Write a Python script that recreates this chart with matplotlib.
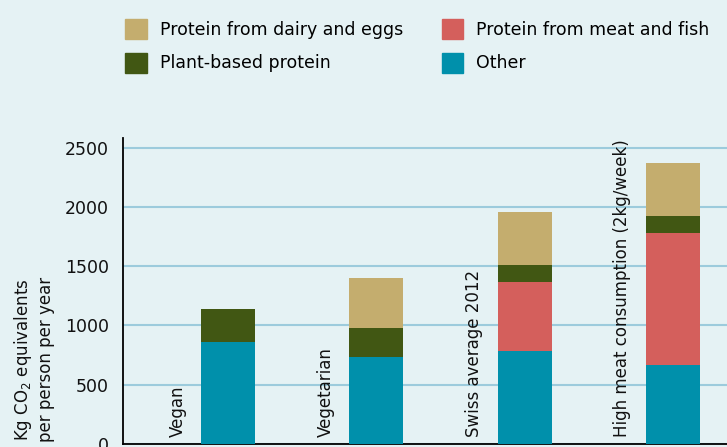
import numpy as np
import matplotlib
matplotlib.use("Agg")
import matplotlib.pyplot as plt
from matplotlib.patches import Patch

# data
diets = ["Vegan", "Vegetarian", "Swiss average 2012", "High meat consumption (2kg/week)"]
other = [858, 737, 782, 669]
meat = [0, 0, 582, 1111]
plant = [277, 238, 144, 144]
dairy = [0, 423, 450, 449]

series_names = ["Other", "Protein from meat and fish", "Plant-based protein", "Protein from dairy and eggs"]
series_values = [other, meat, plant, dairy]
series_colors = ["#0090ab", "#d45f5c", "#415713", "#c4ad6e"]

y_ticks = [0, 500, 1000, 1500, 2000, 2500]

bg = "#e5f2f4"
plt.rcParams["font.family"] = ["DejaVu Sans"]

fig = plt.figure(figsize=(7.27, 4.47), dpi=100, facecolor=bg)
ax = fig.add_axes([123 / 727, 3 / 447, 1 - 123 / 727, 306 / 447], facecolor=bg)

x = np.arange(len(diets))
bottom = np.zeros(len(diets))
for vals, col in zip(series_values, series_colors):
    ax.bar(x, vals, width=0.364, bottom=bottom, color=col, zorder=3)
    bottom += np.array(vals)

# rotated category labels left of each bar
for xi, name in zip(x, diets):
    ax.text(xi - 0.34, 60, name, rotation=90, ha="center", va="bottom",
            fontsize=12, color="#111111", zorder=4)

ax.set_xlim(-0.708, 3.365)
ax.set_ylim(0, 2582)
ax.set_yticks(y_ticks)
ax.set_xticks([])
ax.tick_params(axis="y", length=0, labelsize=12.5, pad=10, labelcolor="#111111")
ax.yaxis.grid(True, color="#9ccbdc", linewidth=1.5, zorder=0)
ax.set_axisbelow(True)
for s in ["top", "right"]:
    ax.spines[s].set_visible(False)
ax.spines["left"].set_linewidth(1.3)
ax.spines["bottom"].set_linewidth(1.3)

fig.text(0.046, 0.195, "Kg CO$_2$ equivalents\nper person per year", rotation=90,
         ha="center", va="center", fontsize=12, multialignment="center", color="#111111")

# legend, two columns on top
handles = [Patch(color=series_colors[3]), Patch(color=series_colors[2]),
           Patch(color=series_colors[1]), Patch(color=series_colors[0])]
labels = [series_names[3], series_names[2], series_names[1], series_names[0]]
fig.legend(handles, labels, ncol=2, loc="upper left", bbox_to_anchor=(0.151, 0.993),
           frameon=False, fontsize=12.5, handlelength=1.25, handleheight=1.4,
           columnspacing=2.2, labelspacing=0.8, handletextpad=0.75)

fig.savefig("out.png", dpi=100, facecolor=bg)
